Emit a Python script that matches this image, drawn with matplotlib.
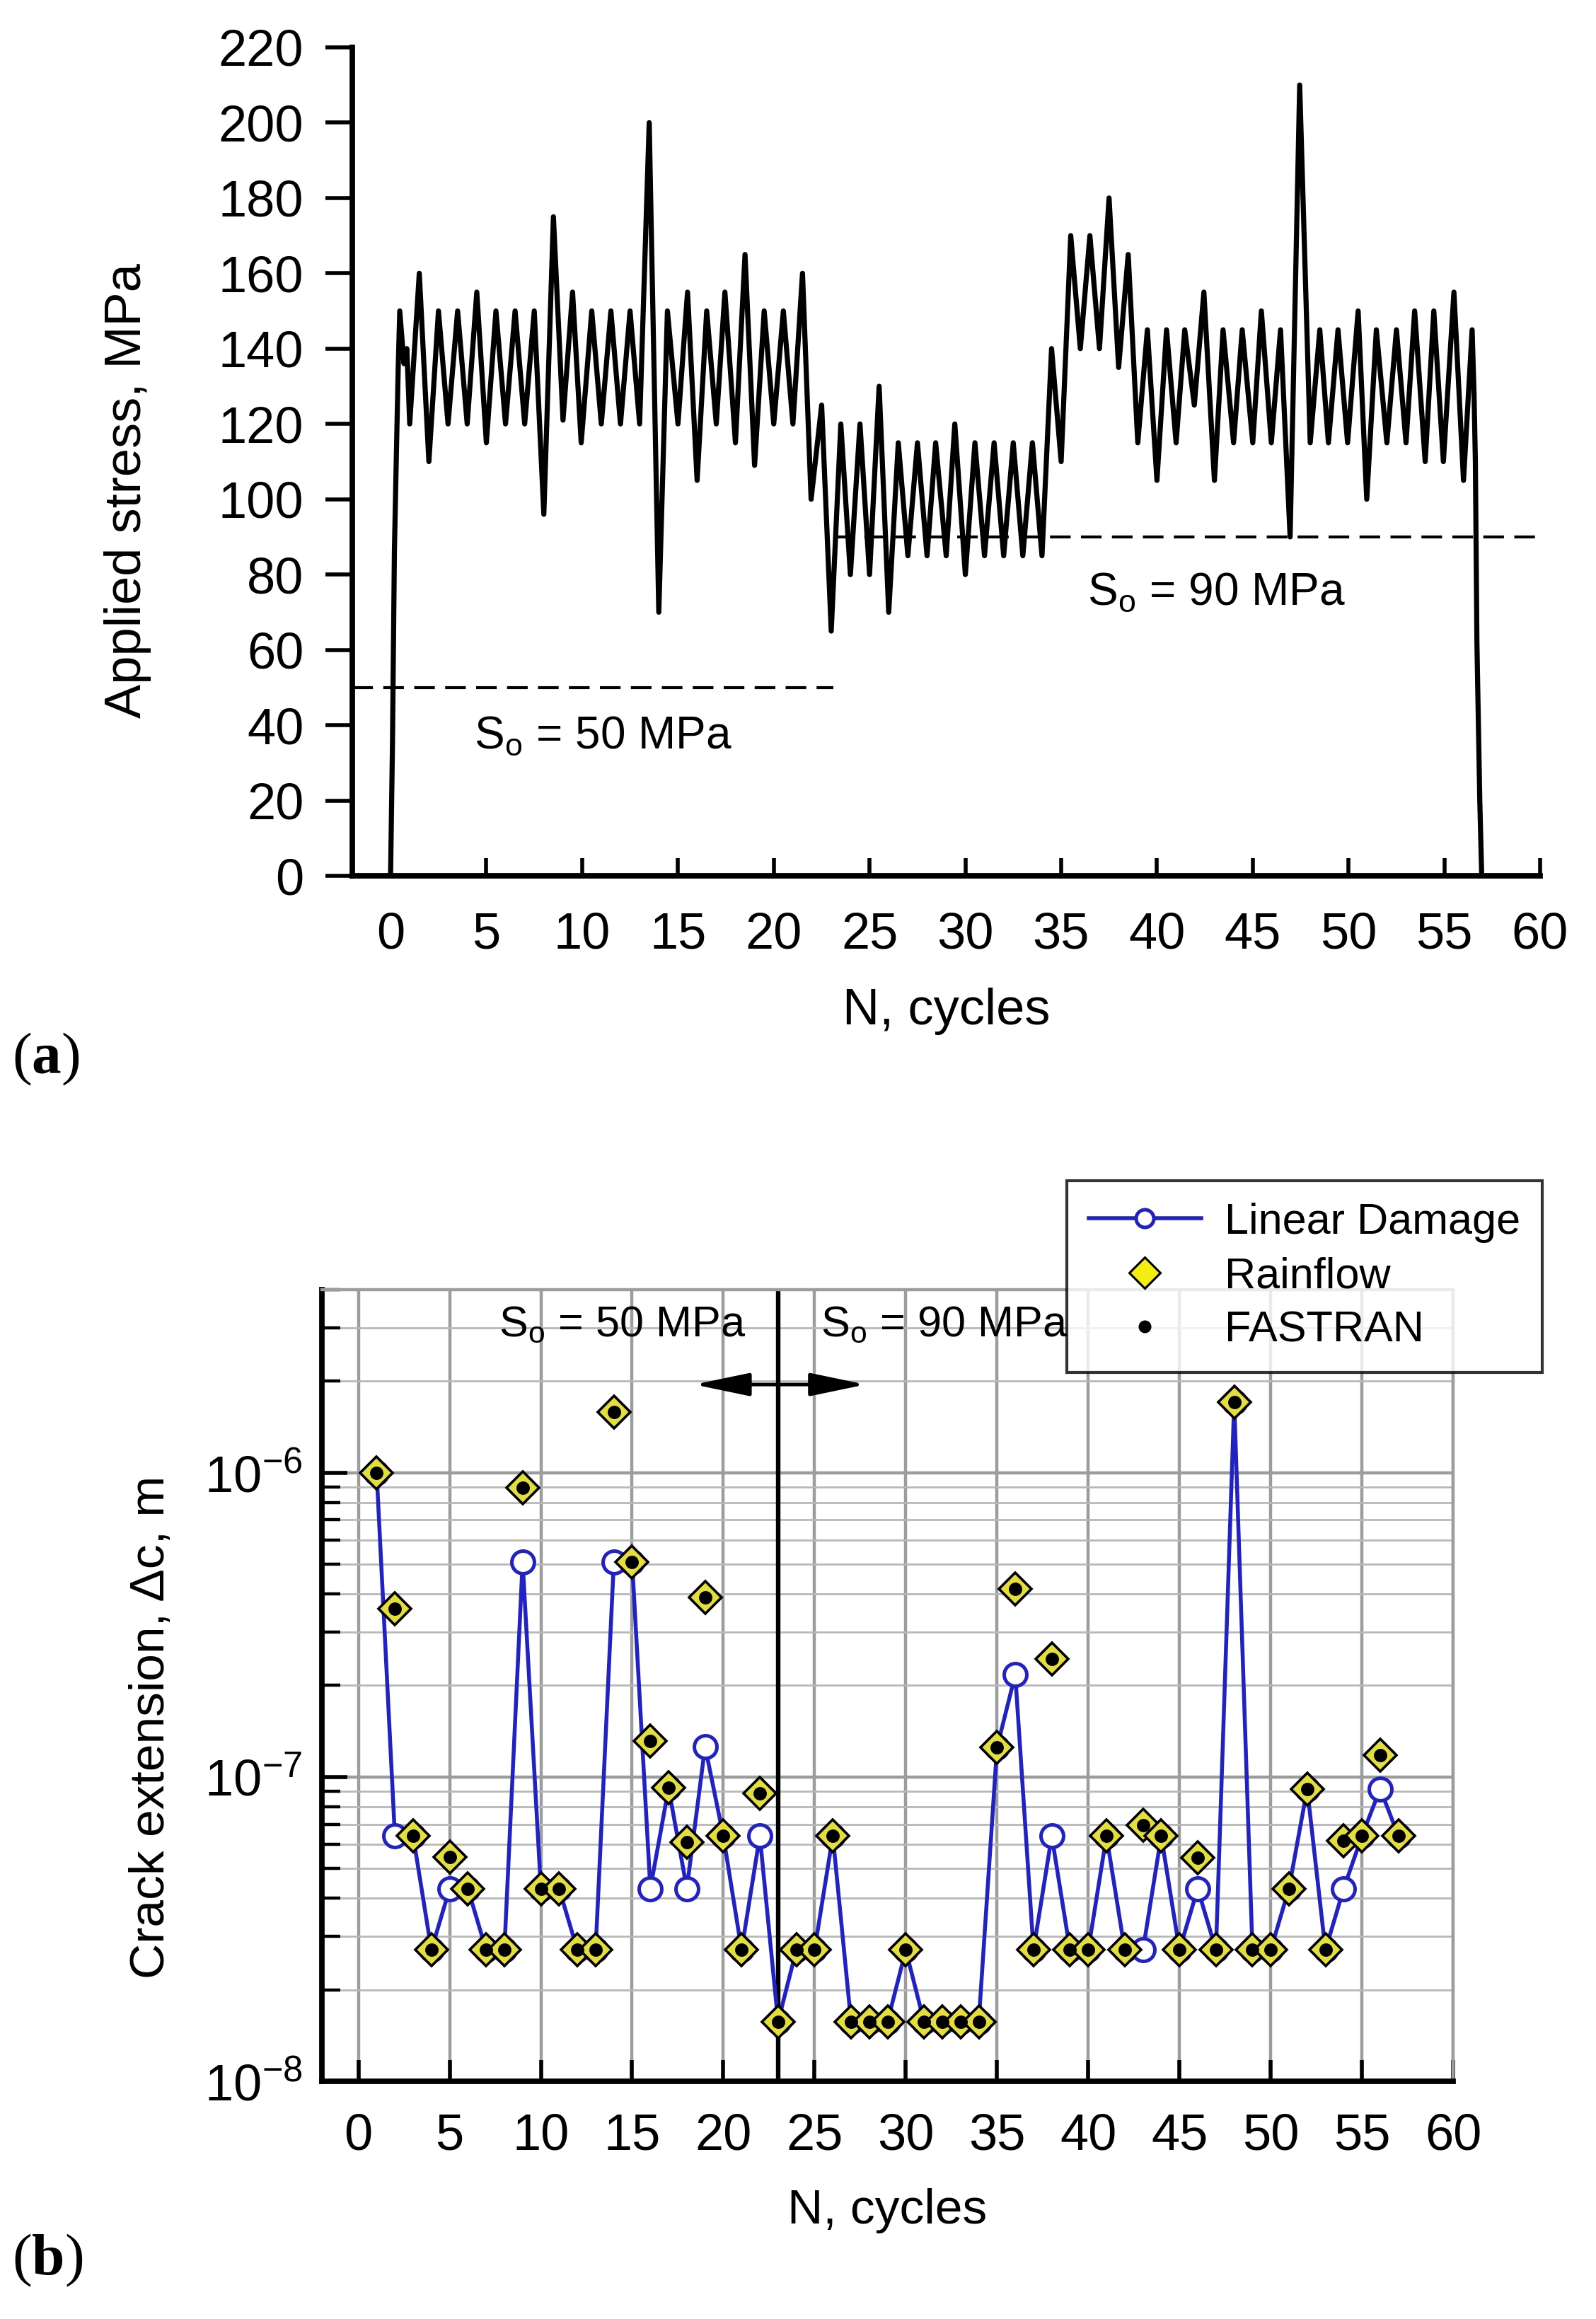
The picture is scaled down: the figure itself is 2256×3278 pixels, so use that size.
import matplotlib
matplotlib.use('Agg')
from matplotlib import pyplot as plt
from matplotlib.lines import Line2D
from matplotlib.ticker import LogLocator, FuncFormatter, NullFormatter
import numpy as np

plt.rcParams['font.family'] = ['Liberation Sans', 'DejaVu Sans']
plt.rcParams['mathtext.fontset'] = 'custom'
plt.rcParams['mathtext.rm'] = 'Liberation Sans'
plt.rcParams['mathtext.bf'] = 'Liberation Serif:bold'

# ---- (a) applied stress history ----
load_n = [0, 0.1, 0.2, 0.3, 0.4, 0.48, 0.7, 0.85, 1.0,
          1.5, 2.0, 2.5, 3.0, 3.5, 4.0, 4.5, 5.0, 5.5, 6.0, 6.5, 7.0,
          7.5, 8.0, 8.5, 9.0, 9.5, 9.95, 10.5, 11.0, 11.5, 12.0, 12.5, 13.0,
          13.5, 14.0, 14.45, 15.0, 15.5, 16.0, 16.5, 17.0, 17.45, 18.0,
          18.5, 19.0, 19.5, 20.0, 20.5, 21.0, 21.5, 21.95, 22.5, 23.0,
          23.5, 24.0, 24.5, 25.0, 25.5, 26.0, 26.5, 27.0, 27.5, 28.0,
          28.45, 29.0, 29.45, 30.0, 30.5, 31.0, 31.5, 32.0, 32.5, 33.0,
          33.5, 34.0, 34.5, 35.0, 35.5, 36.0, 36.5, 37.0, 37.5, 38.0,
          38.5, 39.0, 39.5, 40.0, 40.5, 41.0, 41.45, 41.95, 42.45, 43.0,
          43.45, 44.0, 44.45, 45.0, 45.45, 45.97, 46.45, 46.95, 47.45, 48.0,
          48.5, 48.95, 49.45, 49.95, 50.5, 50.95, 51.45, 52.0, 52.5, 53.0,
          53.45, 54.0, 54.45, 54.95, 55.5, 56.0, 56.45, 56.55, 56.62, 56.7,
          56.85, 56.95]
load_s = [0, 35, 86, 111, 135, 150, 136, 140, 120,
          160, 110, 150, 120, 150, 120, 155, 115, 150, 120, 150, 120,
          150, 96, 175, 121, 155, 115, 150, 120, 150, 120, 150, 120,
          200, 70, 150, 120, 155, 105, 150, 120, 155, 115,
          165, 109, 150, 120, 150, 120, 160, 100, 125, 65,
          120, 80, 120, 80, 130, 70, 115, 85, 115, 85,
          115, 85, 120, 80, 115, 85, 115, 85, 115, 85,
          115, 85, 140, 110, 170, 140, 170, 140, 180, 135,
          165, 115, 145, 105, 145, 115, 145, 125, 155, 105,
          145, 115, 145, 115, 150, 115, 145, 90, 210, 115,
          145, 115, 145, 115, 150, 100, 145, 115, 145, 115,
          150, 110, 150, 110, 155, 105, 145, 128, 110, 62,
          20, 0]

so_levels = [50, 90]
so_spans = [(-2, 23.1), (23.1, 60)]
so_labels = [r'S$_\mathregular{o}$ = 50 MPa', r'S$_\mathregular{o}$ = 90 MPa']

# ---- (b) crack extension per cycle ----
cycles = list(range(1, 58))
linear_damage = [1e-6, 6.4e-8, 6.4e-8, 2.7e-8, 4.3e-8, 4.3e-8, 2.7e-8, 2.7e-8, 5.1e-7, 4.3e-8,
                 4.3e-8, 2.7e-8, 2.7e-8, 5.1e-7, 5.1e-7, 4.3e-8, 9.2e-8, 4.3e-8, 1.26e-7, 6.4e-8,
                 2.7e-8, 6.4e-8, 1.57e-8, 2.7e-8, 2.7e-8, 6.4e-8, 1.57e-8, 1.57e-8, 1.57e-8, 2.7e-8,
                 1.57e-8, 1.57e-8, 1.57e-8, 1.57e-8, 1.25e-7, 2.17e-7, 2.7e-8, 6.4e-8, 2.7e-8, 2.7e-8,
                 6.4e-8, 2.7e-8, 2.7e-8, 6.4e-8, 2.7e-8, 4.3e-8, 2.7e-8, 1.71e-6, 2.7e-8, 2.7e-8,
                 4.3e-8, 9.15e-8, 2.7e-8, 4.3e-8, 6.4e-8, 9.15e-8, 6.4e-8]
rainflow = [1e-6, 3.57e-7, 6.4e-8, 2.7e-8, 5.46e-8, 4.3e-8, 2.7e-8, 2.7e-8, 8.95e-7, 4.3e-8,
            4.3e-8, 2.7e-8, 2.7e-8, 1.58e-6, 5.1e-7, 1.31e-7, 9.2e-8, 6.1e-8, 3.9e-7, 6.4e-8,
            2.7e-8, 8.85e-8, 1.57e-8, 2.7e-8, 2.7e-8, 6.4e-8, 1.57e-8, 1.57e-8, 1.57e-8, 2.7e-8,
            1.57e-8, 1.57e-8, 1.57e-8, 1.57e-8, 1.25e-7, 4.15e-7, 2.7e-8, 2.44e-7, 2.7e-8, 2.7e-8,
            6.4e-8, 2.7e-8, 6.93e-8, 6.4e-8, 2.7e-8, 5.43e-8, 2.7e-8, 1.71e-6, 2.7e-8, 2.7e-8,
            4.3e-8, 9.15e-8, 2.7e-8, 6.18e-8, 6.4e-8, 1.18e-7, 6.4e-8]
fastran = [1e-6, 3.57e-7, 6.4e-8, 2.7e-8, 5.46e-8, 4.3e-8, 2.7e-8, 2.7e-8, 8.95e-7, 4.3e-8,
           4.3e-8, 2.7e-8, 2.7e-8, 1.58e-6, 5.1e-7, 1.31e-7, 9.2e-8, 6.1e-8, 3.9e-7, 6.4e-8,
           2.7e-8, 8.85e-8, 1.57e-8, 2.7e-8, 2.7e-8, 6.4e-8, 1.57e-8, 1.57e-8, 1.57e-8, 2.7e-8,
           1.57e-8, 1.57e-8, 1.57e-8, 1.57e-8, 1.25e-7, 4.15e-7, 2.7e-8, 2.44e-7, 2.7e-8, 2.7e-8,
           6.4e-8, 2.7e-8, 6.93e-8, 6.4e-8, 2.7e-8, 5.43e-8, 2.7e-8, 1.71e-6, 2.7e-8, 2.7e-8,
           4.3e-8, 9.15e-8, 2.7e-8, 6.18e-8, 6.4e-8, 1.18e-7, 6.4e-8]
change_cycle = 23
legend_labels = ['Linear Damage', 'Rainflow', 'FASTRAN']

blue = '#2222c2'
yellow = '#e4de3c'

fig = plt.figure(figsize=(11.28, 16.39), dpi=200)

# ---------------- panel (a) ----------------
ax1 = fig.add_axes([0.2207, 0.6223, 0.7443, 0.3573])
ax1.plot(load_n, load_s, color='k', lw=2.6, zorder=3)
for lev, (x0, x1) in zip(so_levels, so_spans):
    ax1.plot([x0, x1], [lev, lev], color='k', lw=1.5, dashes=(7, 3.5), zorder=2)
ax1.text(11.1, 34, so_labels[0], fontsize=23, ha='center', va='baseline')
ax1.text(43.1, 72, so_labels[1], fontsize=23, ha='center', va='baseline')

ax1.set_xlim(-2, 60)
ax1.set_ylim(0, 220)
for s in ['top', 'right']:
    ax1.spines[s].set_visible(False)
for s in ['left', 'bottom']:
    ax1.spines[s].set_linewidth(2.8)
ax1.set_xticks(range(0, 61, 5))
ax1.set_yticks(range(0, 221, 20))
ax1.tick_params(axis='y', direction='out', length=13.7, width=2.0, pad=11, labelsize=26)
ax1.tick_params(axis='x', direction='in', length=9, width=2.0, pad=18, labelsize=26)
ax1.set_xlabel('N, cycles', fontsize=26)
ax1.set_ylabel('Applied stress, MPa', fontsize=26)
ax1.xaxis.set_label_coords(0.5, -0.135)
ax1.yaxis.set_label_coords(-0.169, 0.465)

# ---------------- panel (b) ----------------
ax2 = fig.add_axes([0.2017, 0.1025, 0.7088, 0.3414])
ax2.set_yscale('log')
ax2.set_xlim(-2, 60)
ax2.set_ylim(1e-8, 4e-6)
ax2.set_xticks(range(0, 61, 5))
ax2.yaxis.set_major_locator(LogLocator(base=10, numticks=10))
ax2.yaxis.set_minor_locator(LogLocator(base=10, subs=range(2, 10), numticks=20))
ax2.yaxis.set_major_formatter(FuncFormatter(lambda v, p: r'$\mathregular{10^{%d}}$' % round(np.log10(v))))
ax2.yaxis.set_minor_formatter(NullFormatter())
ax2.set_axisbelow(True)
ax2.grid(which='major', axis='both', color='#9c9c9c', lw=1.6)
ax2.grid(which='minor', axis='y', color='#b8b8b8', lw=1.0)

ax2.axvline(change_cycle, color='k', lw=2.3, zorder=2)
ax2.plot(cycles, linear_damage, '-o', color=blue, mfc='white', mec=blue,
         ms=11.5, mew=1.8, lw=2.0, zorder=3)
ax2.plot(cycles, rainflow, ls='none', marker='D', mfc=yellow, mec='k',
         ms=11.5, mew=1.3, zorder=4)
ax2.plot(cycles, fastran, ls='none', marker='o', color='k', ms=5.8, zorder=5)

ax2.text(14.45, 2.8e-6, so_labels[0], fontsize=22, ha='center', va='baseline')
ax2.text(32.1, 2.8e-6, so_labels[1], fontsize=22, ha='center', va='baseline')
ax2.annotate('', xy=(18.4, 1.95e-6), xytext=(27.8, 1.95e-6),
             arrowprops=dict(arrowstyle='<|-|>,head_length=1.2,head_width=0.25',
                             color='k', lw=1.8, mutation_scale=20, shrinkA=0, shrinkB=0))

for s in ['top', 'right']:
    ax2.spines[s].set_color('#9c9c9c')
    ax2.spines[s].set_linewidth(1.6)
for s in ['left', 'bottom']:
    ax2.spines[s].set_linewidth(2.8)
ax2.tick_params(axis='x', which='major', direction='in', length=10.8, width=2.0, pad=16, labelsize=26)
ax2.tick_params(axis='y', which='major', direction='in', length=13, width=2.0, pad=10, labelsize=26)
ax2.tick_params(axis='y', which='minor', direction='in', length=9.4, width=1.6)
ax2.set_xlabel('N, cycles', fontsize=25)
ax2.set_ylabel('Crack extension, \u0394c, m', fontsize=25)
ax2.xaxis.set_label_coords(0.5, -0.135)
ax2.yaxis.set_label_coords(-0.131, 0.447)

handles = [Line2D([], [], color=blue, marker='o', mfc='white', mec=blue, ms=9, mew=1.8, lw=2.0),
           Line2D([], [], ls='none', marker='D', mfc='#f2ee10', mec='k', ms=11, mew=1.1),
           Line2D([], [], ls='none', marker='o', color='k', ms=5.5)]
leg = fig.legend(handles, legend_labels, loc='upper right',
                 bbox_to_anchor=(2180 / 2256, 1 - 1669 / 3278), bbox_transform=fig.transFigure,
                 frameon=True, fancybox=False, edgecolor='k', fontsize=22, handlelength=2.6,
                 borderpad=0.5, labelspacing=0.32, handletextpad=0.55, borderaxespad=0)
leg.get_frame().set_linewidth(1.5)
leg.set_zorder(10)

# panel letters
fig.text(0.0075, 0.5433, r'($\mathbf{a}$)', fontsize=30, family='Liberation Serif', va='center')
fig.text(0.0075, 0.0253, r'($\mathbf{b}$)', fontsize=30, family='Liberation Serif', va='center')

fig.savefig('out.png', dpi=200)
